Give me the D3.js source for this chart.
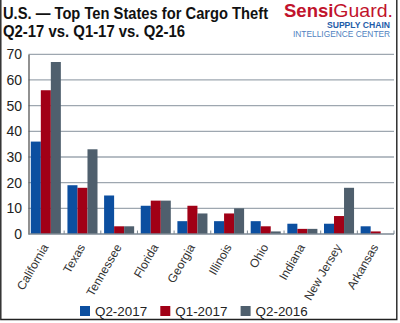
<!DOCTYPE html>
<html>
<head>
<meta charset="utf-8">
<script src="https://cdn.jsdelivr.net/npm/d3@7"></script>
<style>
    body { margin: 0; background: #fff; }
    #chart svg { display: block; font-family: "Liberation Sans", Arial, Helvetica, sans-serif; }
    .axis--y text { font-size: 14px; fill: #222; }
    .axis--x text { font-size: 12px; fill: #333; }
    .legend--label { font-size: 13.4px; fill: #222; }
</style>
</head>
<body>
<div id="chart"></div>
<script>
const states = ["California", "Texas", "Tennessee", "Florida", "Georgia", "Illinois", "Ohio", "Indiana", "New Jersey", "Arkansas"];
const series = ["Q2-2017", "Q1-2017", "Q2-2016"];
const q2_2017 = [36, 19, 15, 11, 5, 5, 5, 4, 4, 3];
const q1_2017 = [56, 18, 3, 13, 11, 8, 3, 2, 7, 1];
const q2_2016 = [67, 33, 3, 13, 8, 10, 1, 2, 18, 0];
const yTicks = [0, 10, 20, 30, 40, 50, 60, 70];

const values = [q2_2017, q1_2017, q2_2016];
const data = states.map(function(s, i) {
    return {state: s, values: series.map(function(k, j) { return {key: k, value: values[j][i]}; })};
});

const width = 400;
const height = 323;
const margin = {top: 54.3, left: 28.5, right: 394, bottom: 234};

const svg = d3.select("#chart")
    .append("svg")
    .attr("width", width)
    .attr("height", height)
    .attr("viewBox", `0 0 ${width} ${height}`);

// frame round the chart
svg.append("path")
    .attr("d", `M0.8,0 V319.5 H396.8 V0`)
    .attr("fill", "none")
    .attr("stroke", "#222")
    .attr("stroke-width", 1.4);

// squeeze a text horizontally so that it spans the given width
function fitText(sel, x, y, w) {
    const natural = sel.node().getComputedTextLength();
    sel.attr("transform", `translate(${x},${y}) scale(${w / natural},1)`);
}

// title, set in a narrow bold face
const title1 = svg.append("text")
    .attr("font-size", 16.8)
    .attr("font-weight", "bold")
    .attr("fill", "#111")
    .text("U.S. \u2014 Top Ten States for Cargo Theft");
fitText(title1, 3, 19.3, 265);

const title2 = svg.append("text")
    .attr("font-size", 16.8)
    .attr("font-weight", "bold")
    .attr("fill", "#111")
    .text("Q2-17 vs. Q1-17 vs. Q2-16");
fitText(title2, 3, 37.4, 182);

// logo block: bold "Sensi" followed by regular "Guard."
const sensi = svg.append("text")
    .attr("x", 284)
    .attr("y", 16.8)
    .attr("font-size", 18.5)
    .attr("font-weight", "bold")
    .attr("fill", "#c1132c")
    .text("Sensi");

const sensiWidth = sensi.node().getComputedTextLength();

const guard = svg.append("text")
    .attr("font-size", 18.5)
    .attr("fill", "#c1132c")
    .text("Guard.");
fitText(guard, 284 + sensiWidth, 16.8, 393 - 284 - sensiWidth);

svg.append("text")
    .attr("x", 390)
    .attr("y", 28.3)
    .attr("text-anchor", "end")
    .attr("font-size", 8.6)
    .attr("font-weight", "bold")
    .attr("fill", "#1e5ca8")
    .text("SUPPLY CHAIN");

const center = svg.append("text")
    .attr("font-size", 8.4)
    .attr("fill", "#4f7fc0")
    .text("INTELLIGENCE CENTER");
fitText(center, 293, 37.3, 97);

const xScale = d3.scaleBand()
    .domain(states)
    .range([27.5, margin.right])
    .paddingInner(0.18)
    .paddingOuter(0.09);

const x1Scale = d3.scaleBand()
    .domain(series)
    .range([0, xScale.bandwidth()]);

const yScale = d3.scaleLinear()
    .domain([0, 70])
    .range([margin.bottom, margin.top]);

const fillScale = d3.scaleOrdinal()
    .domain(series)
    .range(["#0c4fa0", "#a10016", "#4f5f6d"]);

// gridlines
svg.append("g")
    .selectAll("line")
    .data(yTicks.filter(function(d) { return d > 0; }))
    .enter()
    .append("line")
        .attr("x1", margin.left)
        .attr("x2", margin.right)
        .attr("y1", function(d) { return yScale(d); })
        .attr("y2", function(d) { return yScale(d); })
        .attr("stroke", "#9ea7b0")
        .attr("stroke-width", 1.3);

const yAxis = svg.append("g")
    .attr("class", "axis--y")
    .attr("transform", `translate(${margin.left},0)`)
    .call(d3.axisLeft(yScale).tickValues(yTicks).tickSize(0).tickPadding(6.5));

yAxis.select(".domain")
    .attr("stroke", "#555")
    .attr("stroke-width", 1.3);
yAxis.selectAll("text").attr("font-family", null);

// bars
svg.append("g")
    .selectAll("g")
    .data(data)
    .enter()
    .append("g")
        .attr("transform", function(d) { return `translate(${xScale(d.state)},0)`; })
    .selectAll("rect")
    .data(function(d) { return d.values; })
    .enter()
    .append("rect")
        .attr("x", function(d) { return x1Scale(d.key); })
        .attr("y", function(d) { return yScale(d.value); })
        .attr("width", x1Scale.bandwidth())
        .attr("height", function(d) { return yScale(0) - yScale(d.value); })
        .attr("fill", function(d) { return fillScale(d.key); });

// baseline with small ticks between groups
const step = xScale.step();
svg.append("line")
    .attr("x1", margin.left)
    .attr("x2", margin.right)
    .attr("y1", yScale(0))
    .attr("y2", yScale(0))
    .attr("stroke", "#7d8893")
    .attr("stroke-width", 1.5);

svg.append("g")
    .selectAll("line")
    .data(states)
    .enter()
    .append("line")
        .attr("x1", function(d) { return xScale(d) + xScale.bandwidth() + step * 0.09; })
        .attr("x2", function(d) { return xScale(d) + xScale.bandwidth() + step * 0.09; })
        .attr("y1", yScale(0))
        .attr("y2", yScale(0) - 3.5)
        .attr("stroke", "#7d8893")
        .attr("stroke-width", 1);

// rotated state labels
svg.append("g")
    .attr("class", "axis--x")
    .selectAll("text")
    .data(states)
    .enter()
    .append("text")
        .attr("transform", function(d) { return `translate(${xScale(d) + xScale.bandwidth() / 2 + 3},247) rotate(-60)`; })
        .attr("text-anchor", "end")
        .text(function(d) { return d; });

// legend
const legend = svg.append("g")
    .attr("transform", "translate(80,306)");

series.forEach(function(d, i) {
    legend.append("rect")
        .attr("x", i * 80.3)
        .attr("y", 0)
        .attr("width", 10)
        .attr("height", 10)
        .attr("fill", fillScale(d));

    legend.append("text")
        .attr("class", "legend--label")
        .attr("x", i * 80.3 + 15)
        .attr("y", 10)
        .text(d);
});
</script>
</body>
</html>
